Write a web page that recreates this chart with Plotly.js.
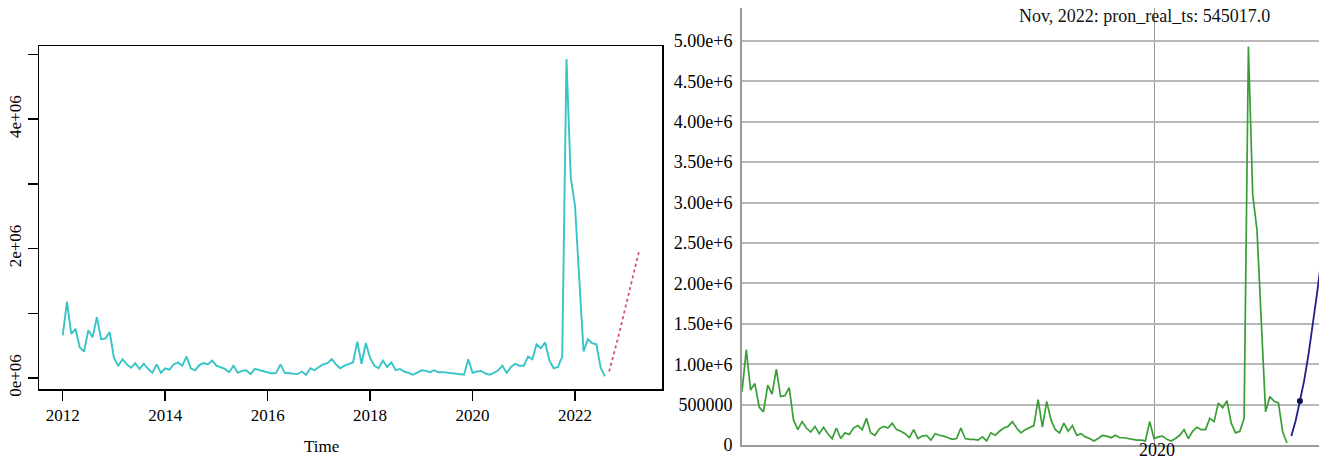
<!DOCTYPE html>
<html><head><meta charset="utf-8">
<script src="https://cdn.plot.ly/plotly-3.0.1.min.js"></script>
<style>html,body{margin:0;padding:0;background:#fff;} #chart{width:1319px;height:461px;}</style>
</head><body><div id="chart"></div>
<script>
// monthly series, starting January 2012
const startYear = 2012;
const actualValues = [
  660000, 1180000, 680000, 760000, 470000, 410000, 740000, 630000, 940000, 600000, 610000, 710000,
  310000, 190000, 290000, 210000, 160000, 230000, 140000, 220000, 140000, 80000, 210000, 80000,
  150000, 130000, 210000, 240000, 190000, 330000, 150000, 120000, 200000, 230000, 210000, 270000,
  190000, 170000, 140000, 90000, 190000, 80000, 110000, 120000, 60000, 140000, 120000, 110000,
  90000, 70000, 80000, 210000, 80000, 70000, 70000, 60000, 100000, 50000, 150000, 120000,
  170000, 210000, 230000, 290000, 210000, 150000, 190000, 220000, 240000, 560000, 220000, 540000,
  310000, 190000, 150000, 270000, 170000, 240000, 120000, 140000, 100000, 80000, 50000, 80000,
  120000, 110000, 90000, 120000, 90000, 90000, 80000, 70000, 60000, 60000, 50000, 290000,
  80000, 100000, 110000, 70000, 50000, 80000, 120000, 190000, 80000, 170000, 220000, 190000,
  190000, 330000, 290000, 520000, 460000, 550000, 270000, 150000, 170000, 330000, 4930000, 3100000,
  2660000, 1530000, 410000, 600000, 540000, 520000, 160000, 25000
];
// forecasts, Sep 2022 - Apr 2023
const forecastStartIndex = 128;
const leftForecast = [100000, 340000, 600000, 870000, 1140000, 1420000, 1690000, 1960000];
const rightForecast = [110000, 300000, 545017, 800000, 1120000, 1480000, 1880000, 2300000];
const highlightIndex = 2;  // Nov 2022
const leftYearTicks = [2012, 2014, 2016, 2018, 2020, 2022];
const leftYTickVals = [0, 1000000, 2000000, 3000000, 4000000, 5000000];
const leftYTickText = ['0e+06', '', '2e+06', '', '4e+06', ''];
const rightYTickVals = [0, 500000, 1000000, 1500000, 2000000, 2500000, 3000000, 3500000, 4000000, 4500000, 5000000];
const rightYTickText = ['0', '500000', '1.00e+6', '1.50e+6', '2.00e+6', '2.50e+6', '3.00e+6', '3.50e+6', '4.00e+6', '4.50e+6', '5.00e+6'];
const rightXTicks = [2020];
const hoverLabel = 'Nov, 2022: pron_real_ts: 545017.0';

const W = 1319, H = 461;
const px = v => v / W, py = v => 1 - v / H;
const tAct = actualValues.map((_, i) => startYear + i / 12);
const tFc = leftForecast.map((_, i) => startYear + (forecastStartIndex + i) / 12);
const serif = 'Liberation Serif, Times New Roman, serif';

const traces = [
  {x: tAct, y: actualValues, xaxis: 'x', yaxis: 'y', mode: 'lines', line: {color: '#36c4c6', width: 1.9}},
  {x: tFc, y: leftForecast, xaxis: 'x', yaxis: 'y', mode: 'lines', line: {color: '#d9506c', width: 1.8, dash: 'dot'}},
  {x: tAct, y: actualValues, xaxis: 'x2', yaxis: 'y2', mode: 'lines', line: {color: '#3a9e36', width: 1.7}},
  {x: tFc, y: rightForecast, xaxis: 'x2', yaxis: 'y2', mode: 'lines', line: {color: '#20208a', width: 1.8}},
  {x: [tFc[highlightIndex]], y: [rightForecast[highlightIndex]], xaxis: 'x2', yaxis: 'y2', mode: 'markers',
   marker: {color: '#101050', size: 6}}
];

const layout = {
  width: W, height: H, margin: {l: 0, r: 0, t: 0, b: 0},
  paper_bgcolor: '#fff', plot_bgcolor: '#fff', showlegend: false,
  font: {family: serif, color: '#000'},
  xaxis: {domain: [px(39), px(662)], anchor: 'y', range: [2011.537, 2023.698], showgrid: false, zeroline: false,
    showline: true, mirror: true, linecolor: '#000', linewidth: 1.5,
    ticks: 'outside', ticklen: 10, tickwidth: 1.5, tickcolor: '#000',
    tickvals: leftYearTicks, ticktext: leftYearTicks.map(String), tickfont: {size: 17, family: serif, color: '#000'}},
  yaxis: {domain: [py(389), py(46)], anchor: 'x', range: [-170000, 5131000], showgrid: false, zeroline: false,
    showline: true, mirror: true, linecolor: '#000', linewidth: 1.5,
    ticks: 'outside', ticklen: 10, tickwidth: 1.5, tickcolor: '#000', tickangle: -90,
    tickvals: leftYTickVals, ticktext: leftYTickText, tickfont: {size: 17, family: serif, color: '#000'}},
  xaxis2: {domain: [px(742), 1], anchor: 'y2', range: [2012.0, 2023.204], showgrid: true, gridcolor: '#9a9a9a', gridwidth: 1,
    zeroline: false, showline: true, linecolor: '#9a9a9a', linewidth: 2, ticks: '',
    tickvals: rightXTicks, showticklabels: false},
  yaxis2: {domain: [py(445), py(8)], anchor: 'x2', range: [0, 5408000], showgrid: true, gridcolor: '#b8b8b8', gridwidth: 2,
    zeroline: false, showline: true, linecolor: '#9a9a9a', linewidth: 2, ticks: '', ticklabelstandoff: 4,
    tickvals: rightYTickVals, ticktext: rightYTickText, tickfont: {size: 18, family: serif, color: '#000'}},
  annotations: [
    {text: 'Time', xref: 'paper', yref: 'paper', x: px(321), y: py(446), xanchor: 'center', yanchor: 'middle',
     showarrow: false, font: {size: 17, family: serif, color: '#000'}},
    {text: hoverLabel, xref: 'paper', yref: 'paper', x: px(1144.5), y: py(16), xanchor: 'center', yanchor: 'middle',
     showarrow: false, font: {size: 18, family: serif, color: '#111'}},
    {text: String(rightXTicks[0]), xref: 'x2', yref: 'paper', x: rightXTicks[0], y: py(450), xanchor: 'center', yanchor: 'middle',
     xshift: 3, showarrow: false, font: {size: 18, family: serif, color: '#000'}}
  ]
};

Plotly.newPlot('chart', traces, layout, {staticPlot: true, displayModeBar: false});
</script>
</body></html>
